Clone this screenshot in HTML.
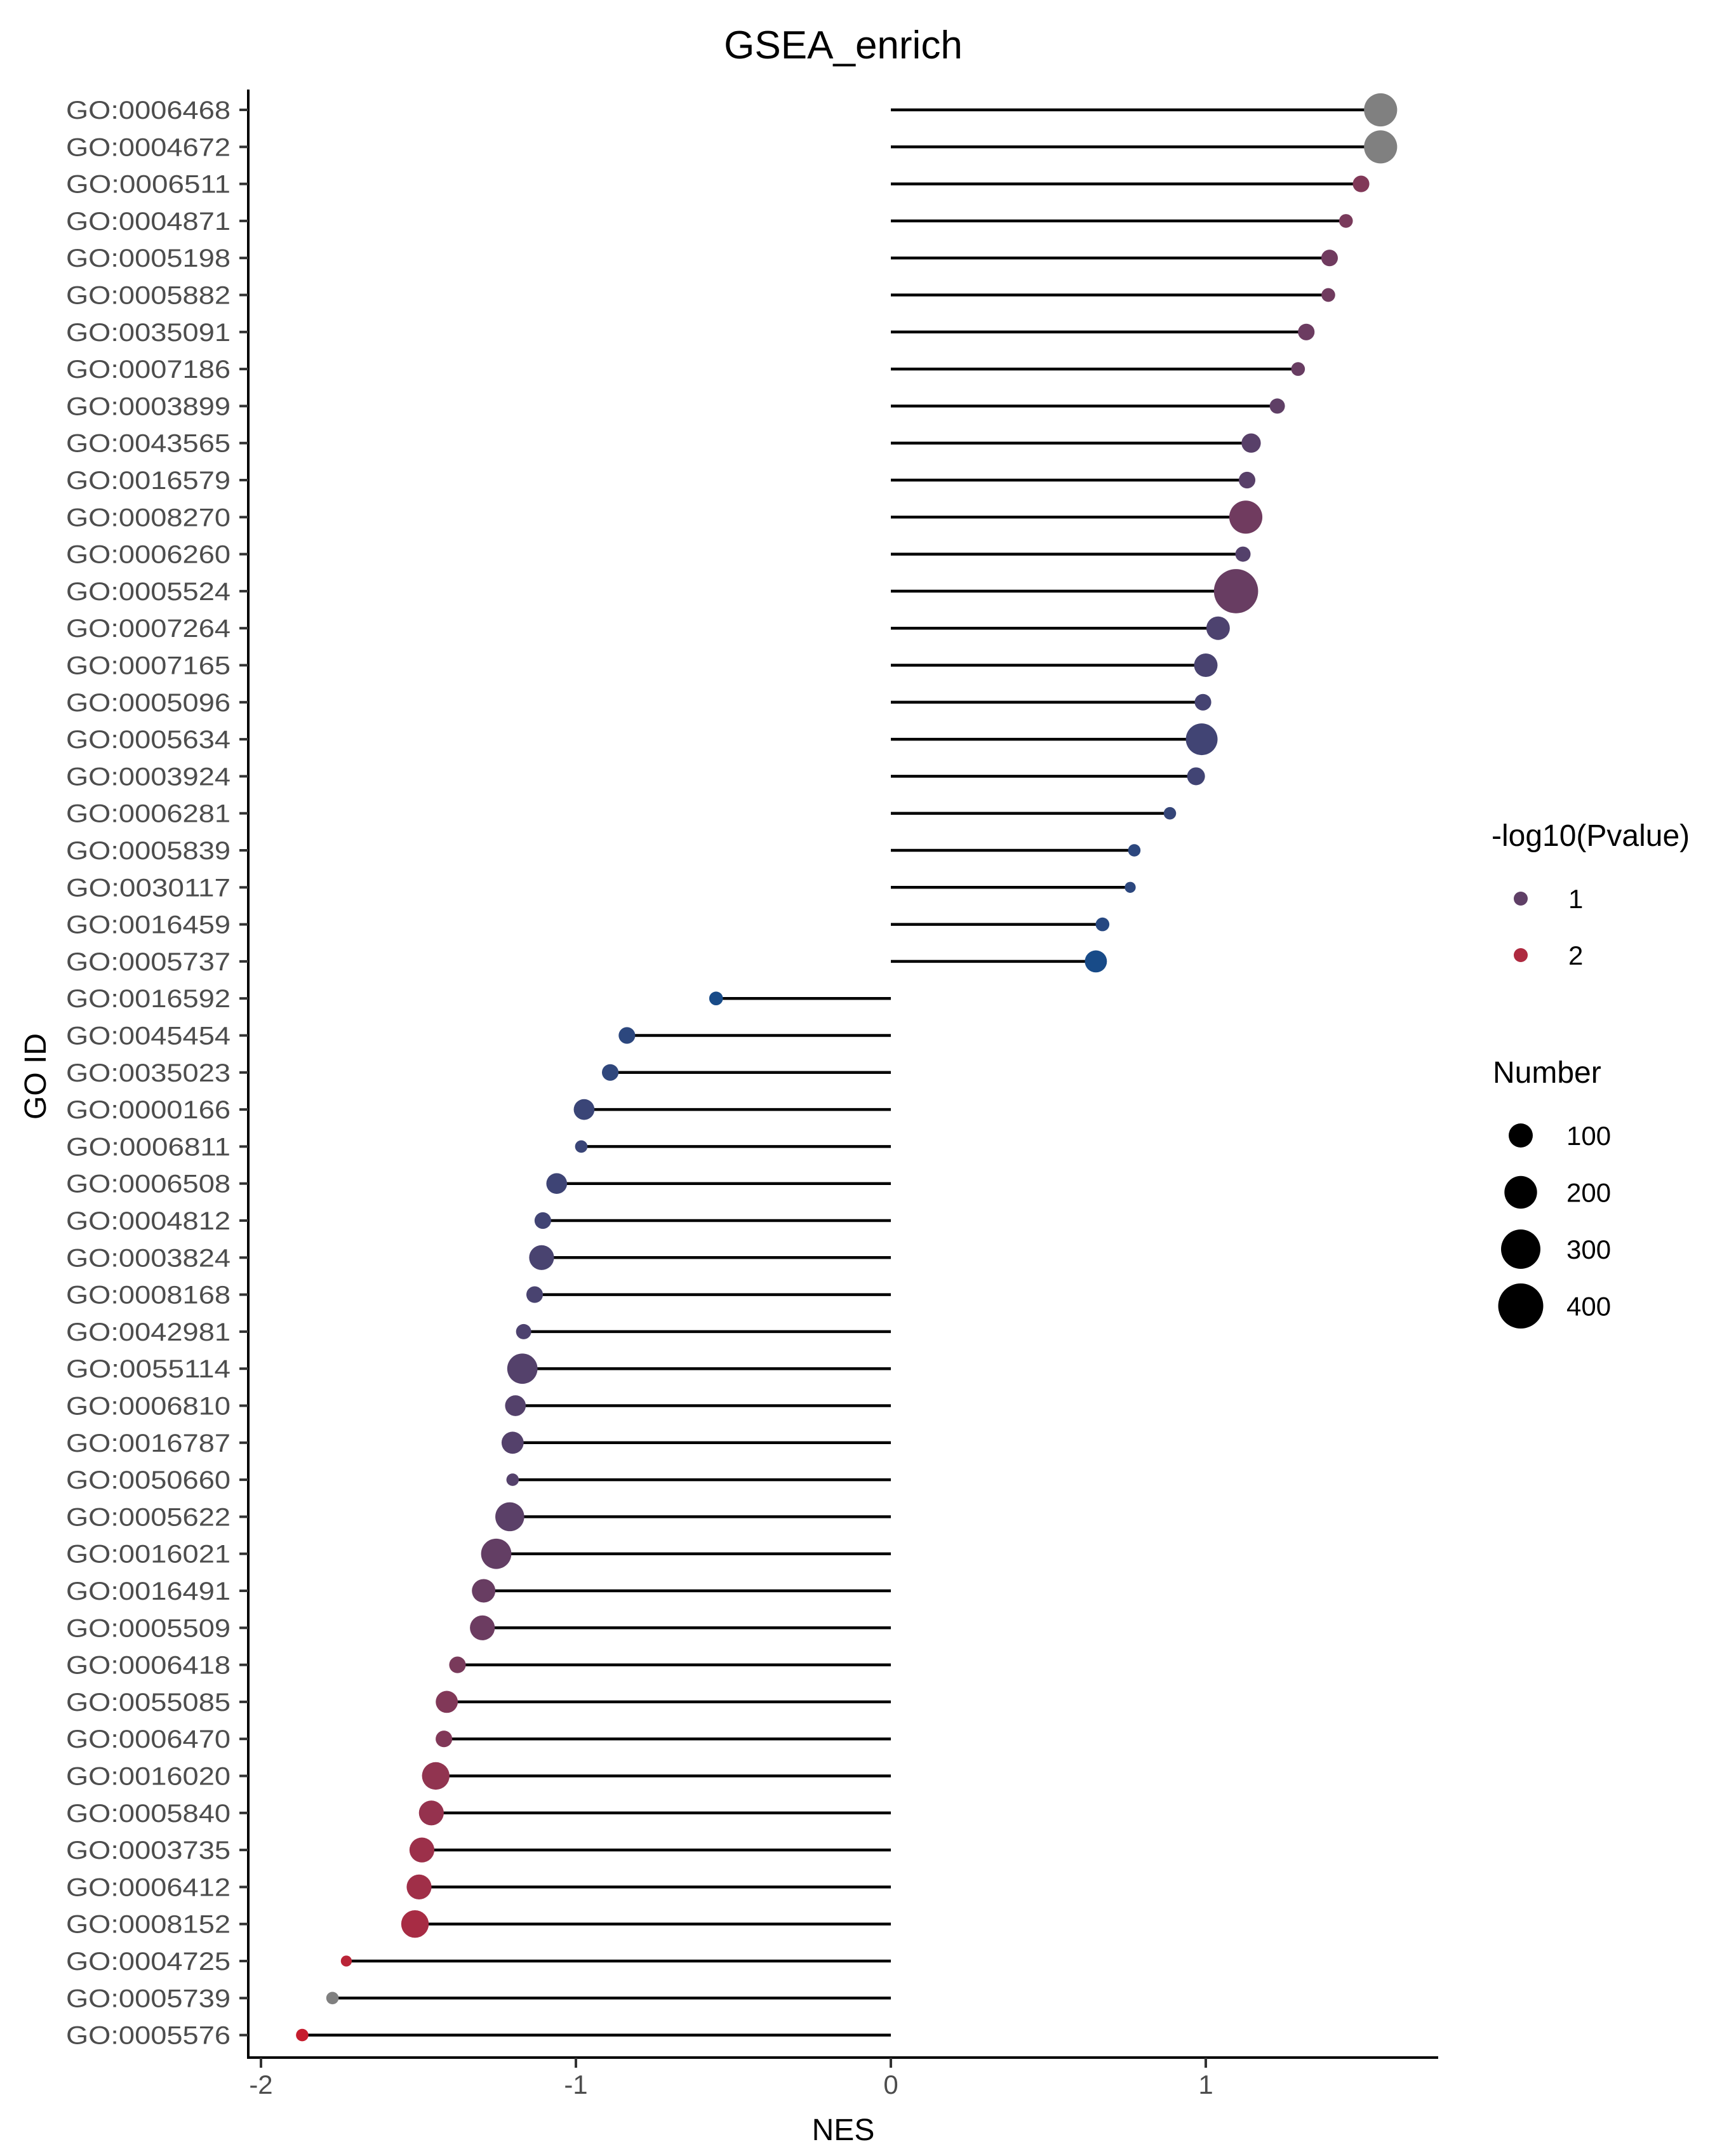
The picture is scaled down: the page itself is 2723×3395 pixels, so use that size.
<!DOCTYPE html>
<html><head><meta charset="utf-8"><style>
html,body{margin:0;padding:0;background:#fff;}
svg{display:block;font-family:"Liberation Sans",Arial,sans-serif;}
</style></head><body>
<svg id="chart" width="2723" height="3395" viewBox="0 0 2723 3395" xmlns="http://www.w3.org/2000/svg">
<rect width="2723" height="3395" fill="#fff"/>
<text x="1328" y="92" font-size="62" text-anchor="middle" fill="#000">GSEA_enrich</text>
<g id="plot"></g>
<line x1="391" y1="141" x2="391" y2="3242" stroke="#000" stroke-width="4"/>
<line x1="389" y1="3240" x2="2265" y2="3240" stroke="#000" stroke-width="4"/>
<g id="xticks"></g>
<g id="yticks"></g>
<text x="1328" y="3370" font-size="48" text-anchor="middle" fill="#000">NES</text>
<text transform="translate(72,1695) rotate(-90)" font-size="48" text-anchor="middle" fill="#000">GO ID</text>
<g id="legend">
<text x="2349" y="1332" font-size="48" fill="#000">-log10(Pvalue)</text>
<text x="2351" y="1705" font-size="48" fill="#000">Number</text>
</g>
</svg>
<script>
const categories=["GO:0006468","GO:0004672","GO:0006511","GO:0004871","GO:0005198","GO:0005882","GO:0035091","GO:0007186","GO:0003899","GO:0043565","GO:0016579","GO:0008270","GO:0006260","GO:0005524","GO:0007264","GO:0007165","GO:0005096","GO:0005634","GO:0003924","GO:0006281","GO:0005839","GO:0030117","GO:0016459","GO:0005737","GO:0016592","GO:0045454","GO:0035023","GO:0000166","GO:0006811","GO:0006508","GO:0004812","GO:0003824","GO:0008168","GO:0042981","GO:0055114","GO:0006810","GO:0016787","GO:0050660","GO:0005622","GO:0016021","GO:0016491","GO:0005509","GO:0006418","GO:0055085","GO:0006470","GO:0016020","GO:0005840","GO:0003735","GO:0006412","GO:0008152","GO:0004725","GO:0005739","GO:0005576"];
const nes=[1.555,1.555,1.493,1.445,1.393,1.389,1.319,1.293,1.227,1.144,1.131,1.127,1.118,1.096,1.039,1.000,0.991,0.987,0.969,0.886,0.773,0.760,0.672,0.651,-0.555,-0.838,-0.891,-0.974,-0.983,-1.061,-1.105,-1.109,-1.131,-1.166,-1.170,-1.192,-1.201,-1.201,-1.210,-1.253,-1.293,-1.297,-1.376,-1.410,-1.419,-1.445,-1.459,-1.489,-1.498,-1.511,-1.729,-1.773,-1.869];
const numbers=[207,207,37,19,37,19,37,19,28,57,37,207,28,384,94,94,37,188,46,12,12,5,19,81,19,37,37,69,12,69,37,108,37,28,170,69,81,12,153,170,94,108,37,81,37,137,108,108,108,137,5,12,12];
const pvals=[null,null,1.4,1.3,1.2,1.2,1.15,1.1,1.0,0.9,0.9,1.2,0.85,1.1,0.75,0.7,0.65,0.6,0.6,0.45,0.35,0.35,0.3,0.15,0.15,0.35,0.4,0.5,0.5,0.55,0.6,0.7,0.7,0.75,0.85,0.85,0.85,0.85,0.95,1.05,1.1,1.15,1.3,1.4,1.4,1.6,1.65,1.75,1.8,1.9,2.2,null,2.4];
const xTicks=[-2,-1,0,1];
const colorLegendValues=[1,2];
const sizeLegendValues=[100,200,300,400];

const NS="http://www.w3.org/2000/svg";
function xScale(v){return 1403+v*496;}
function yScale(i){return 173+i*58.3;}
function rScale(n){return Math.sqrt(60+3.0*n);}
const stops=[[0,[10,77,143]],[0.5,[58,69,119]],[1,[95,63,102]],[1.5,[138,54,84]],[2,[174,42,64]],[2.5,[204,26,42]]];
function colorScale(v){
  if(v===null) return "#808080";
  if(v<=stops[0][0]) return "rgb("+stops[0][1].join(",")+")";
  for(let k=1;k<stops.length;k++){
    if(v<=stops[k][0]){
      const a=stops[k-1],b=stops[k],t=(v-a[0])/(b[0]-a[0]);
      return "rgb("+a[1].map((c,j)=>Math.round(c+(b[1][j]-c)*t)).join(",")+")";
    }
  }
  return "rgb("+stops[stops.length-1][1].join(",")+")";
}
function mk(tag,attrs,parent){const e=document.createElementNS(NS,tag);for(const k in attrs)e.setAttribute(k,attrs[k]);parent.appendChild(e);return e;}

const plot=document.getElementById('plot');
const yt=document.getElementById('yticks');
categories.forEach((c,i)=>{
  const y=yScale(i);
  const ln=mk('line',{x1:xScale(0),y1:y,x2:xScale(nes[i]),y2:y,stroke:'#000','stroke-width':4.5},plot);
  
  
  const pt=mk('circle',{cx:xScale(nes[i]),cy:y,r:rScale(numbers[i]),fill:colorScale(pvals[i])},plot);
  
  
  const tk=mk('line',{x1:377,y1:y,x2:391,y2:y,stroke:'#333','stroke-width':4},yt);
  
  
  const tl=mk('text',{x:363,y:y+14,'font-size':40,'text-anchor':'end',fill:'#4d4d4d',textLength:259,lengthAdjust:'spacingAndGlyphs'},yt);
  tl.textContent=c;
  
  
});
const xt=document.getElementById('xticks');
xTicks.forEach(v=>{
  const tk=mk('line',{x1:xScale(v),y1:3240,x2:xScale(v),y2:3256,stroke:'#333','stroke-width':4},xt);
  
  
  const tl=mk('text',{x:xScale(v),y:3297,'font-size':42,'text-anchor':'middle',fill:'#4d4d4d'},xt);
  tl.textContent=v<0?'-'+Math.abs(v):String(v);
  
  
});
const lg=document.getElementById('legend');
colorLegendValues.forEach((v,k)=>{
  const y=1415+k*89;
  const d=mk('circle',{cx:2395,cy:y,r:11,fill:colorScale(v)},lg);
  
  
  const t=mk('text',{x:2470,y:y+15,'font-size':42,fill:'#000'},lg);
  t.textContent=String(v);
  
  
});
sizeLegendValues.forEach((v,k)=>{
  const y=1788+k*89.5;
  const d=mk('circle',{cx:2395,cy:y,r:rScale(v),fill:'#000'},lg);
  
  
  const t=mk('text',{x:2467,y:y+15,'font-size':42,fill:'#000'},lg);
  t.textContent=String(v);
  
  
});
</script>
</body></html>
